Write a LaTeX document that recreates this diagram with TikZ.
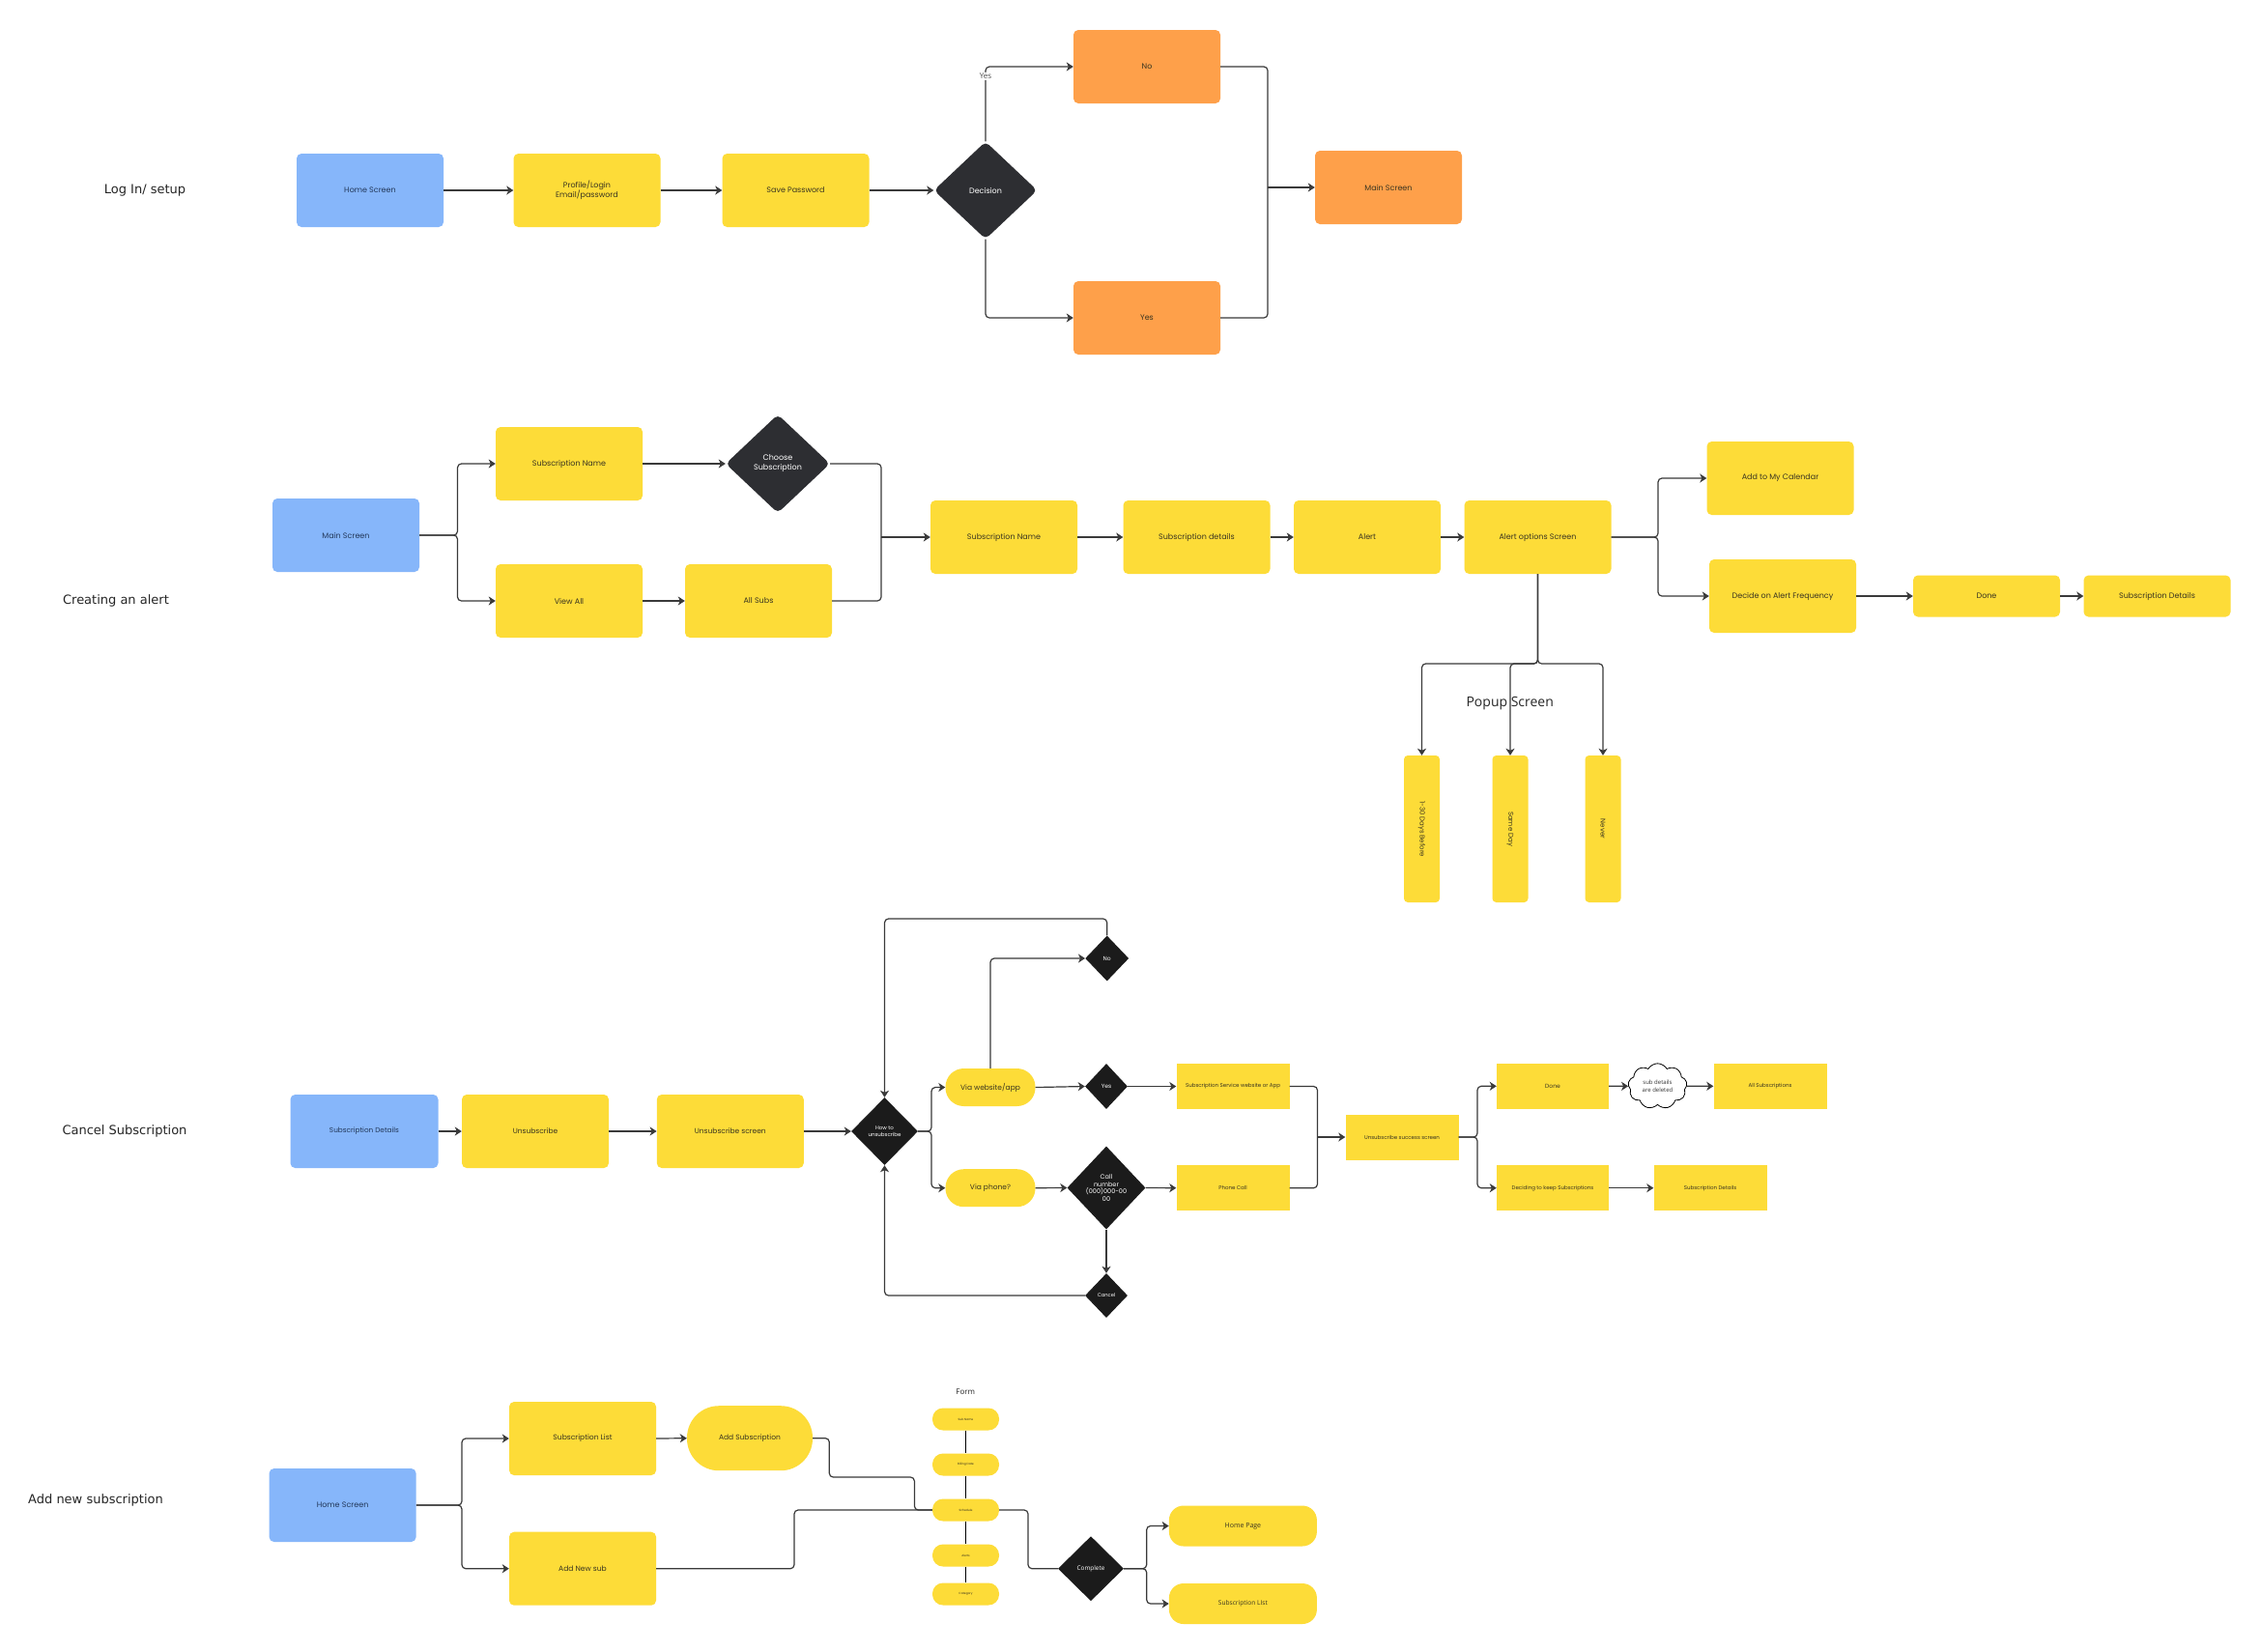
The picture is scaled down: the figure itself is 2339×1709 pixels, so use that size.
\documentclass[tikz,border=0pt]{standalone}
\usepackage{fontspec}
\setmainfont{Poppins}
\newfontfamily\opensans{Open Sans}
\newfontfamily\dejavu{DejaVu Sans}
\usetikzlibrary{shapes.geometric,shapes.symbols,arrows.meta}
\definecolor{yel}{HTML}{FDDC38}
\definecolor{bluec}{HTML}{86B6FA}
\definecolor{orc}{HTML}{FEA04A}
\definecolor{dk1}{HTML}{2D2E32}
\definecolor{dk2}{HTML}{1B1B1B}
\definecolor{lnc}{HTML}{3A3A3A}
\definecolor{txtc}{HTML}{3A3520}
\definecolor{navy}{HTML}{23385A}
\tikzset{
 base/.style={inner sep=1pt, align=center, text=txtc},
 ybox/.style={base, rectangle, rounded corners=5pt, fill=yel, minimum width=152pt, minimum height=76pt, font=\fontsize{8}{10}\selectfont},
 bbox/.style={ybox, fill=bluec, text=navy},
 obox/.style={ybox, fill=orc},
 ddia/.style={base, diamond, fill=dk1, text=white, rounded corners=5pt, font=\fontsize{8}{10}\selectfont},
 kdia/.style={base, diamond, fill=dk2, text=white, font=\fontsize{5.5}{7}\selectfont},
 srect/.style={base, rectangle, fill=yel, minimum width=117pt, minimum height=47pt, font=\fontsize{5.5}{7}\selectfont},
 pill/.style={base, rectangle, fill=yel, rounded corners=19pt, minimum width=93pt, minimum height=39pt, font=\fontsize{7.5}{9}\selectfont},
 vbox/.style={rectangle, rounded corners=4pt, fill=yel, minimum width=37pt, minimum height=152pt, inner sep=0pt},
 vtext/.style={rotate=-90, text=txtc, font=\fontsize{7}{8}\selectfont},
 formitem/.style={base, rectangle, fill=yel, rounded corners=11pt, minimum width=69pt, minimum height=23pt, font=\fontsize{3}{3.5}\selectfont},
 line/.style={draw=lnc, line width=1.2pt, rounded corners=4pt},
 conn/.style={line, -{Stealth[length=7pt,width=9pt,inset=2pt]}},
 sect/.style={font=\dejavu\fontsize{13}{15}\selectfont, text=black!85},
}
\begin{document}
\begin{tikzpicture}[x=1pt,y=-1pt]
\useasboundingbox[fill=white] (0,0) rectangle (2339,1709);

% ---------------- Section 1: Log In / setup
\node[sect] (s1) at (150,197) {Log In/ setup};
\node[bbox] (hs1) at (383,197) {Home Screen};
\node[ybox] (prof) at (607.5,197) {Profile/Login\\Email/password};
\node[ybox] (savep) at (823.5,197) {Save Password};
\node[ddia, minimum width=107pt, minimum height=101pt] (dec) at (1020,197) {Decision};
\node[obox] (no1) at (1187,69) {No};
\node[obox] (yes1) at (1187,329) {Yes};
\node[obox] (main1) at (1437,194) {Main Screen};
\coordinate (m1) at (1312,194);
\draw[conn] (hs1.east) -- (prof.west);
\draw[conn] (prof.east) -- (savep.west);
\draw[conn] (savep.east) -- (dec.west);
\draw[conn] (dec.north) |- (no1.west);
\draw[conn] (dec.south) |- (yes1.west);
\draw[line] (no1.east) -| (m1);
\draw[line] (yes1.east) -| (m1);
\draw[conn] (m1) -- (main1.west);
\node[fill=white, inner sep=1.5pt, text=black!70, font=\opensans\fontsize{8}{9}\selectfont] (yeslbl) at (1020,79) {Yes};

% ---------------- Section 2: Creating an alert
\node[sect] (s2) at (120,622) {Creating an alert};
\node[bbox] (ms2) at (358,554) {Main Screen};
\node[ybox] (sn2a) at (589,480) {Subscription Name};
\node[ddia, minimum width=108pt, minimum height=102pt] (cs2) at (805,480) {Choose\\Subscription};
\node[ybox] (va2) at (589,622) {View All};
\node[ybox] (as2) at (785,622) {All Subs};
\node[ybox] (sn2b) at (1039,556) {Subscription Name};
\node[ybox] (sd2) at (1238.5,556) {Subscription details};
\node[ybox] (al2) at (1415,556) {Alert};
\node[ybox] (ao2) at (1591.5,556) {Alert options Screen};
\node[ybox] (cal2) at (1842.5,495) {Add to My Calendar};
\node[ybox] (daf2) at (1845,617) {Decide on Alert Frequency};
\node[ybox, minimum height=43pt] (done2) at (2056,617) {Done};
\node[ybox, minimum height=43pt] (sdet2) at (2232.5,617) {Subscription Details};
\node[vbox] (d130) at (1471.5,858) {};
\node[vtext] (d130t) at (d130.center) {1-30 Days Before};
\node[vbox] (same) at (1563,858) {};
\node[vtext] (samet) at (same.center) {Same Day};
\node[vbox] (never) at (1659,858) {};
\node[vtext] (nevert) at (never.center) {Never};
\coordinate (b2) at (473.5,554);
\coordinate (m2) at (912,556);
\coordinate (r2) at (1716,556);
\coordinate (p2) at (1591.5,687);
\draw[conn] (ms2.east) -- (b2) |- (sn2a.west);
\draw[conn] (ms2.east) -- (b2) |- (va2.west);
\draw[conn] (sn2a.east) -- (cs2.west);
\draw[conn] (va2.east) -- (as2.west);
\draw[line] (cs2.east) -| (m2);
\draw[line] (as2.east) -| (m2);
\draw[conn] (m2) -- (sn2b.west);
\draw[conn] (sn2b.east) -- (sd2.west);
\draw[conn] (sd2.east) -- (al2.west);
\draw[conn] (al2.east) -- (ao2.west);
\draw[conn] (ao2.east) -- (r2) |- (cal2.west);
\draw[conn] (ao2.east) -- (r2) |- (daf2.west);
\draw[conn] (daf2.east) -- (done2.west);
\draw[conn] (done2.east) -- (sdet2.west);
\draw[conn] (ao2.south) -- (p2) -| (d130.north);
\draw[conn] (ao2.south) -- (p2) -| (same.north);
\draw[conn] (ao2.south) -- (p2) -| (never.north);
\node[font=\opensans\fontsize{14}{16}\selectfont, text=black!85] (popup) at (1562.7,728) {Popup Screen};

% ---------------- Section 3: Cancel Subscription
\node[sect] (s3) at (129,1171) {Cancel Subscription};
\node[bbox, minimum width=153pt, font=\fontsize{7.3}{9}\selectfont] (sdet3) at (377,1171) {Subscription Details};
\node[ybox, font=\fontsize{7.5}{9}\selectfont] (uns3) at (554,1171) {Unsubscribe};
\node[ybox, font=\fontsize{7.5}{9}\selectfont] (unss3) at (755.8,1171) {Unsubscribe screen};
\node[kdia, minimum width=69pt, minimum height=70pt] (how3) at (915.5,1171) {How to\\unsubscribe};
\node[pill] (web3) at (1025,1125.5) {Via website/app};
\node[pill] (ph3) at (1025,1229.7) {Via phone?};
\node[kdia, minimum width=45pt, minimum height=47pt, font=\fontsize{6}{7}\selectfont] (no3) at (1145.7,992) {No};
\node[kdia, minimum width=44pt, minimum height=47pt, font=\fontsize{6}{7}\selectfont] (yes3) at (1145,1124.5) {Yes};
\node[kdia, minimum width=81pt, minimum height=86pt, font=\fontsize{6.5}{7.8}\selectfont] (call3) at (1145,1229.5) {Call\\number\\(000)000-00\\00};
\node[kdia, minimum width=44pt, minimum height=46pt, font=\fontsize{5.2}{6}\selectfont] (cancel3) at (1145,1341) {Cancel};
\node[srect] (ssw3) at (1276,1124.5) {Subscription Service website or App};
\node[srect] (pc3) at (1276,1229.7) {Phone Call};
\node[srect] (uss3) at (1451,1177) {Unsubscribe success screen};
\node[srect, minimum width=116pt, font=\fontsize{6}{7}\selectfont] (done3) at (1607,1124.3) {Done};
\node[cloud, cloud puffs=9, cloud puff arc=120, aspect=1.3, draw=black, line width=0.8pt, fill=white, minimum width=61pt, minimum height=47pt, inner sep=0pt, align=center, font=\opensans\fontsize{6}{7.5}\selectfont, text=black!80] (cloud3) at (1715.5,1124.3) {sub details\\are deleted};
\node[srect] (alls3) at (1832,1124.3) {All Subscriptions};
\node[srect, minimum width=116pt] (keep3) at (1607,1229.7) {Deciding to keep Subscriptions};
\node[srect] (sdet3b) at (1770,1229.7) {Subscription Details};
\coordinate (b3) at (964,1171);
\coordinate (t3) at (915.5,951);
\coordinate (m3) at (1363.5,1177);
\coordinate (r3) at (1529,1177);
\draw[conn] (sdet3.east) -- (uns3.west);
\draw[conn] (uns3.east) -- (unss3.west);
\draw[conn] (unss3.east) -- (how3.west);
\draw[conn] (how3.east) -- (b3) |- (web3.west);
\draw[conn] (how3.east) -- (b3) |- (ph3.west);
\draw[conn] (web3.north) |- (no3.west);
\draw[conn] (no3.north) |- (t3) -- (how3.north);
\draw[conn] (cancel3.west) -| (how3.south);
\draw[conn] (web3.east) -- (yes3.west);
\draw[conn] (yes3.east) -- (ssw3.west);
\draw[conn] (ph3.east) -- (call3.west);
\draw[conn] (call3.east) -- (pc3.west);
\draw[conn] (call3.south) -- (cancel3.north);
\draw[line] (ssw3.east) -| (m3);
\draw[line] (pc3.east) -| (m3);
\draw[conn] (m3) -- (uss3.west);
\draw[conn] (uss3.east) -- (r3) |- (done3.west);
\draw[conn] (uss3.east) -- (r3) |- (keep3.west);
\draw[conn] (done3.east) -- (cloud3.west);
\draw[conn] (cloud3.east) -- (alls3.west);
\draw[conn] (keep3.east) -- (sdet3b.west);

% ---------------- Section 4: Add new subscription
\node[sect] (s4) at (99,1553) {Add new subscription};
\node[bbox] (hs4) at (354.6,1558) {Home Screen};
\node[ybox, font=\fontsize{7.6}{9}\selectfont] (sl4) at (603,1489) {Subscription List};
\node[ybox, font=\fontsize{7.6}{9}\selectfont] (an4) at (603,1623.7) {Add New sub};
\node[base, rectangle, fill=yel, rounded corners=33pt, minimum width=130pt, minimum height=67pt, font=\fontsize{7.5}{9}\selectfont] (as4) at (776,1488.7) {Add Subscription};
\node[font=\opensans\fontsize{8}{9}\selectfont, text=black!85] (formlbl) at (999.3,1440.7) {Form};
\node[formitem] (f1) at (999.5,1469) {Sub Name};
\node[formitem] (f2) at (999.5,1516) {Billing Date};
\node[formitem] (f3) at (999.5,1563) {Schedule};
\node[formitem] (f4) at (999.5,1610) {Alerts};
\node[formitem] (f5) at (999.5,1650) {Category};
\node[kdia, minimum width=68pt, minimum height=67pt, font=\opensans\fontsize{6.4}{7.5}\selectfont] (comp4) at (1129,1623.7) {Complete};
\node[base, rectangle, fill=yel, rounded corners=15pt, minimum width=153pt, minimum height=42pt, font=\opensans\fontsize{7}{8.5}\selectfont] (hp4) at (1286.4,1579.5) {Home Page};
\node[base, rectangle, fill=yel, rounded corners=15pt, minimum width=153pt, minimum height=42pt, font=\opensans\fontsize{6.6}{8}\selectfont] (sl4b) at (1286.4,1660) {Subscription LIst};
\coordinate (b4) at (478,1558);
\coordinate (c4) at (1186.7,1623.7);
\draw[conn] (hs4.east) -- (b4) |- (sl4.west);
\draw[conn] (hs4.east) -- (b4) |- (an4.west);
\draw[conn] (sl4.east) -- (as4.west);
\draw[line] (as4.east) -- (858.3,1488.7) -- (858.3,1529) -- (946.4,1529) -- (946.4,1563) -- (f3.west);
\draw[line] (an4.east) -- (822,1623.7) -- (822,1563) -- (f3.west);
\draw[draw=black, line width=0.8pt] (f1.south) -- (f2.north) (f2.south) -- (f3.north) (f3.south) -- (f4.north) (f4.south) -- (f5.north);
\draw[line] (f3.east) -- (1064,1563) -- (1064,1623.7) -- (comp4.west);
\draw[conn] (comp4.east) -- (c4) |- (hp4.west);
\draw[conn] (comp4.east) -- (c4) |- (sl4b.west);
\end{tikzpicture}
\end{document}
